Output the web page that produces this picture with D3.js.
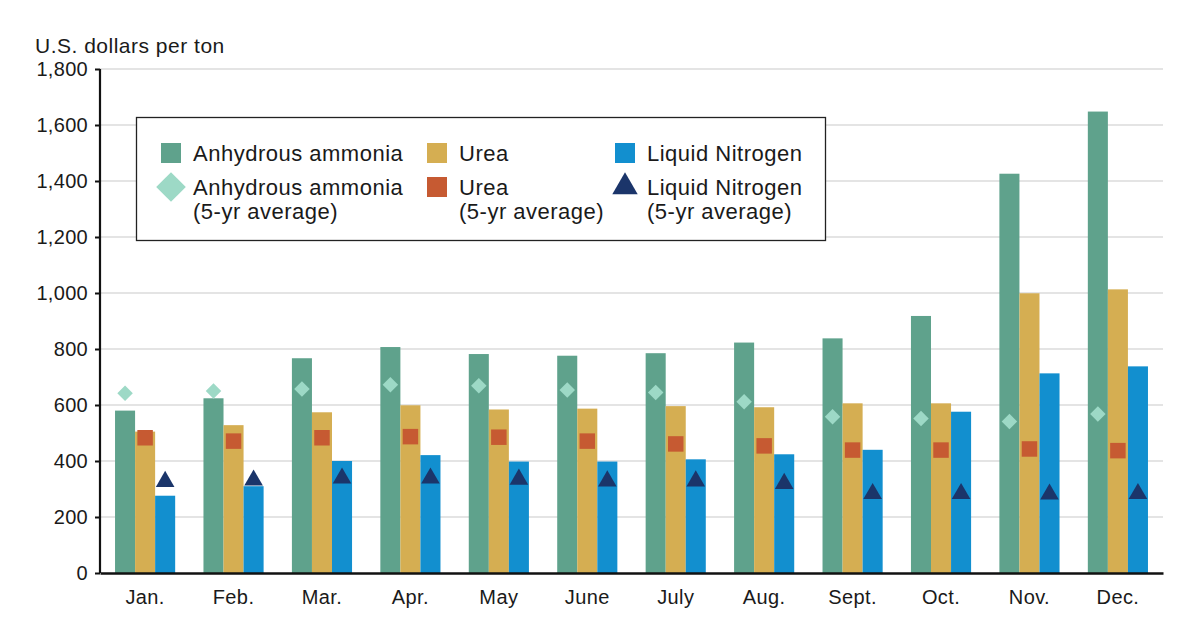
<!DOCTYPE html>
<html>
<head>
    <title>Nitrogen fertilizer prices</title>
    <script src="https://d3js.org/d3.v7.min.js"></script>
    <style>
        body {
            margin: 0;
            background: #fff;
            font-family: "Liberation Sans", Arial, sans-serif;
        }
        .grid line {
            stroke: #c9c9c9;
            stroke-width: 1;
        }
        text {
            fill: #1a1a1a;
        }
    </style>
</head>
<body>
    <div id="viz"></div>
    <script>
        // data
        const months = ['Jan.', 'Feb.', 'Mar.', 'Apr.', 'May', 'June', 'July', 'Aug.', 'Sept.', 'Oct.', 'Nov.', 'Dec.'];
        const ammonia = [580, 624, 767, 807, 782, 776, 785, 823, 838, 918, 1426, 1648];
        const urea = [505, 528, 574, 599, 584, 587, 596, 592, 606, 606, 999, 1013];
        const liquid = [276, 310, 400, 421, 398, 398, 406, 424, 440, 576, 713, 738];
        const ammoniaAvg = [642, 650, 657, 672, 669, 654, 645, 612, 558, 552, 541, 568];
        const ureaAvg = [483, 471, 483, 487, 485, 471, 461, 454, 439, 439, 443, 437];
        const liquidAvg = [330, 335, 342, 342, 338, 332, 332, 323, 287, 287, 285, 287];
        const yTicks = [0, 200, 400, 600, 800, 1000, 1200, 1400, 1600, 1800];

        const width = 1200, height = 640;
        const margin = {left: 100, right: 37, top: 69, bottom: 67};

        const svg = d3.select('#viz')
            .append('svg')
            .attr('width', width)
            .attr('height', height);

        const x = d3.scaleBand()
            .domain(months)
            .range([margin.left, width - margin.right])
            .paddingInner(0.32)
            .paddingOuter(0.17);

        const series = ['ammonia', 'urea', 'liquid'];
        const xs = d3.scaleBand()
            .domain(series)
            .range([0, x.bandwidth()]);

        const y = d3.scaleLinear()
            .domain([0, 1800])
            .range([height - margin.bottom, margin.top]);

        const colors = {
            ammonia: '#5fa28c',
            urea: '#d5ae52',
            liquid: '#128fcf',
            ammoniaAvg: '#9dd9c6',
            ureaAvg: '#c65a32',
            liquidAvg: '#1b356a'
        };

        // gridlines
        svg.append('g')
            .attr('class', 'grid')
            .selectAll('line')
            .data(yTicks.slice(1))
            .enter().append('line')
            .attr('x1', margin.left)
            .attr('x2', width - margin.right)
            .attr('y1', d => y(d))
            .attr('y2', d => y(d));

        // bars
        const rows = months.map((m, i) => ({
            month: m,
            ammonia: ammonia[i],
            urea: urea[i],
            liquid: liquid[i],
            ammoniaAvg: ammoniaAvg[i],
            ureaAvg: ureaAvg[i],
            liquidAvg: liquidAvg[i]
        }));

        const group = svg.append('g')
            .selectAll('g')
            .data(rows)
            .enter().append('g')
            .attr('transform', d => `translate(${x(d.month)},0)`);

        group.selectAll('rect')
            .data(d => series.map(s => ({key: s, value: d[s]})))
            .enter().append('rect')
            .attr('x', d => xs(d.key))
            .attr('width', xs.bandwidth())
            .attr('y', d => y(d.value))
            .attr('height', d => y(0) - y(d.value))
            .style('fill', d => colors[d.key]);

        // 5-yr average markers
        const diamond = d3.symbol().type(d3.symbolSquare).size(120);
        const square = d3.symbol().type(d3.symbolSquare).size(240);
        const triangle = d3.symbol().type(d3.symbolTriangle).size(150);

        group.append('path')
            .attr('d', diamond)
            .attr('transform', d => `translate(${xs('ammonia') + xs.bandwidth() / 2},${y(d.ammoniaAvg)}) rotate(45)`)
            .style('fill', colors.ammoniaAvg);

        group.append('path')
            .attr('d', square)
            .attr('transform', d => `translate(${xs('urea') + xs.bandwidth() / 2},${y(d.ureaAvg)})`)
            .style('fill', colors.ureaAvg);

        group.append('path')
            .attr('d', triangle)
            .attr('transform', d => `translate(${xs('liquid') + xs.bandwidth() / 2},${y(d.liquidAvg) + 1})`)
            .style('fill', colors.liquidAvg);

        // y axis
        const yAxis = svg.append('g')
            .attr('transform', `translate(${margin.left},0)`)
            .call(d3.axisLeft(y).tickValues(yTicks).tickSize(5).tickSizeOuter(0).tickFormat(d3.format(',')));
        yAxis.select('.domain')
            .attr('stroke', '#111')
            .attr('stroke-width', 2.2)
            .attr('d', `M0,${y(0)}V${y(1800)}`);
        yAxis.selectAll('.tick line').attr('stroke', '#111').attr('stroke-width', 2);
        yAxis.selectAll('.tick text')
            .attr('x', -12)
            .style('font-size', '20px')
            .style('letter-spacing', '0.3px')
            .style('font-family', '"Liberation Sans", Arial, sans-serif');

        // x axis
        const xAxis = svg.append('g')
            .attr('transform', `translate(0,${y(0)})`)
            .call(d3.axisBottom(x).tickSize(0).tickSizeOuter(0));
        xAxis.select('.domain')
            .attr('stroke', '#111')
            .attr('stroke-width', 2.5);
        xAxis.selectAll('.tick text')
            .attr('y', 17)
            .style('font-size', '20px')
            .style('letter-spacing', '0.4px')
            .style('font-family', '"Liberation Sans", Arial, sans-serif');

        svg.append('text')
            .attr('x', 35)
            .attr('y', 53)
            .style('font-size', '21px')
            .style('letter-spacing', '0.5px')
            .text('U.S. dollars per ton');

        // legend
        const legend = svg.append('g');
        legend.append('rect')
            .attr('x', 136.5)
            .attr('y', 117.5)
            .attr('width', 689)
            .attr('height', 123)
            .style('fill', '#fff')
            .style('stroke', '#222')
            .style('stroke-width', 1.3);

        const legendItems = [
            {key: 'ammonia', col: 0, row: 0, lines: ['Anhydrous ammonia']},
            {key: 'urea', col: 1, row: 0, lines: ['Urea']},
            {key: 'liquid', col: 2, row: 0, lines: ['Liquid Nitrogen']},
            {key: 'ammoniaAvg', col: 0, row: 1, lines: ['Anhydrous ammonia', '(5-yr average)']},
            {key: 'ureaAvg', col: 1, row: 1, lines: ['Urea', '(5-yr average)']},
            {key: 'liquidAvg', col: 2, row: 1, lines: ['Liquid Nitrogen', '(5-yr average)']}
        ];
        const colX = [171, 437, 625];
        const rowY = [153, 187];

        const li = legend.selectAll('g.item')
            .data(legendItems)
            .enter().append('g')
            .attr('class', 'item')
            .attr('transform', d => `translate(${colX[d.col]},${rowY[d.row]})`);

        li.append('path')
            .attr('d', d => {
                if (d.key === 'ammoniaAvg') return d3.symbol().type(d3.symbolSquare).size(440)();
                if (d.key === 'liquidAvg') return d3.symbol().type(d3.symbolTriangle).size(280)();
                return d3.symbol().type(d3.symbolSquare).size(400)();
            })
            .attr('transform', d => d.key === 'ammoniaAvg' ? 'rotate(45)' : null)
            .style('fill', d => colors[d.key]);

        li.append('text')
            .attr('x', 22)
            .attr('y', 8)
            .style('font-size', '22px')
            .style('letter-spacing', '0.5px')
            .selectAll('tspan')
            .data(d => d.lines)
            .enter().append('tspan')
            .attr('x', 22)
            .attr('dy', (d, i) => i === 0 ? 0 : 24)
            .text(d => d);
    </script>
</body>
</html>
